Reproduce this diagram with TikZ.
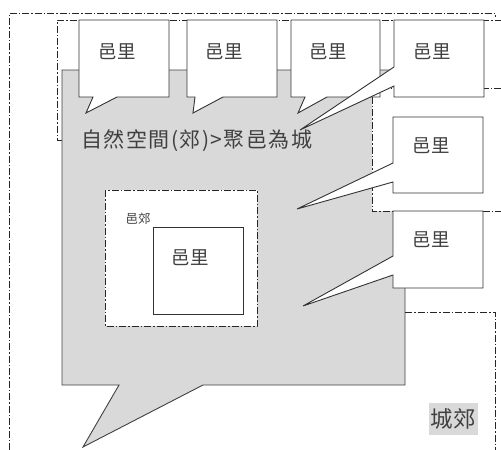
\documentclass[tikz,border=0pt]{standalone}
\usepackage{fontspec}
\setmainfont{Noto Sans CJK TC}
\begin{document}
\begin{tikzpicture}[x=1pt,y=-1pt,
  ddline/.style={draw=black!85,line width=0.7pt,dash pattern=on 7pt off 2pt on 1.5pt off 2pt},
  callout/.style={fill=white,draw=black!80,line width=0.9pt,line join=miter},
  bigcall/.style={fill=black!15,draw=black!75,line width=0.9pt},
  lbl/.style={inner sep=0pt,text=black!75,font=\fontsize{18.5}{18.5}\selectfont}]
\useasboundingbox (0,0) rectangle (501,450);
% outer boundaries
\draw[ddline] (9,450) -- (9,13) -- (495,13) -- (495,17);
\draw[ddline] (62,140) -- (57,140) -- (57,20) -- (501,20);
% big gray callout
\draw[bigcall] (62,70) -- (405,70) -- (405,385) -- (203,385) -- (83,447) -- (119,385) -- (62,385) -- cycle;
% white dash-dot region at right
\fill[white] (372,88) rectangle (501,211);
\draw[ddline] (501,88) -- (372,88) -- (372,211) -- (501,211);
\draw[ddline] (405,312) -- (495,312) -- (495,450);
% inner suburb box
\draw[ddline,fill=white] (105,190) rectangle (257,326);
\draw[draw=black!80,line width=0.9pt] (153,227) rectangle (243,314);
% top callouts
\draw[callout] (79,20) -- (169,20) -- (169,97) -- (117,97) -- (86,113) -- (93,97) -- (79,97) -- cycle;
\draw[callout] (187,20) -- (277,20) -- (277,97) -- (223,97) -- (193,113) -- (195,97) -- (187,97) -- cycle;
\draw[callout] (291,20) -- (380,20) -- (380,97) -- (327,97) -- (298,113) -- (305,97) -- (291,97) -- cycle;
\draw[callout] (394,20) -- (484,20) -- (484,97) -- (394,97) -- (394,86) -- (300,130) -- (394,67) -- cycle;
% right callouts
\draw[callout] (393,117) -- (483,117) -- (483,193) -- (393,193) -- (393,182) -- (297,209) -- (393,163) -- cycle;
\draw[callout] (393,211) -- (483,211) -- (483,288) -- (393,288) -- (393,275) -- (303,306) -- (393,256) -- cycle;
% texts
\node[lbl] (c1) at (117,52) {邑里};
\node[lbl] (c2) at (224,52) {邑里};
\node[lbl] (c3) at (328,52) {邑里};
\node[lbl] (c4) at (432,52) {邑里};
\node[lbl] (c5) at (431,146) {邑里};
\node[lbl] (c6) at (431,240) {邑里};
\node[lbl] (c7) at (190,258) {邑里};
\node[lbl,font=\fontsize{12.5}{12.5}\selectfont] (sub) at (138,219) {邑郊};
\node[lbl,anchor=west,font=\fontsize{21}{21}\selectfont\addfontfeatures{LetterSpace=7}] (main) at (81,141) {自然空間(郊)>聚邑為城};
\node[lbl,fill=black!15,minimum width=49pt,minimum height=32pt,font=\fontsize{22.5}{22.5}\selectfont] (city) at (453,419) {城郊};
\end{tikzpicture}
\end{document}
